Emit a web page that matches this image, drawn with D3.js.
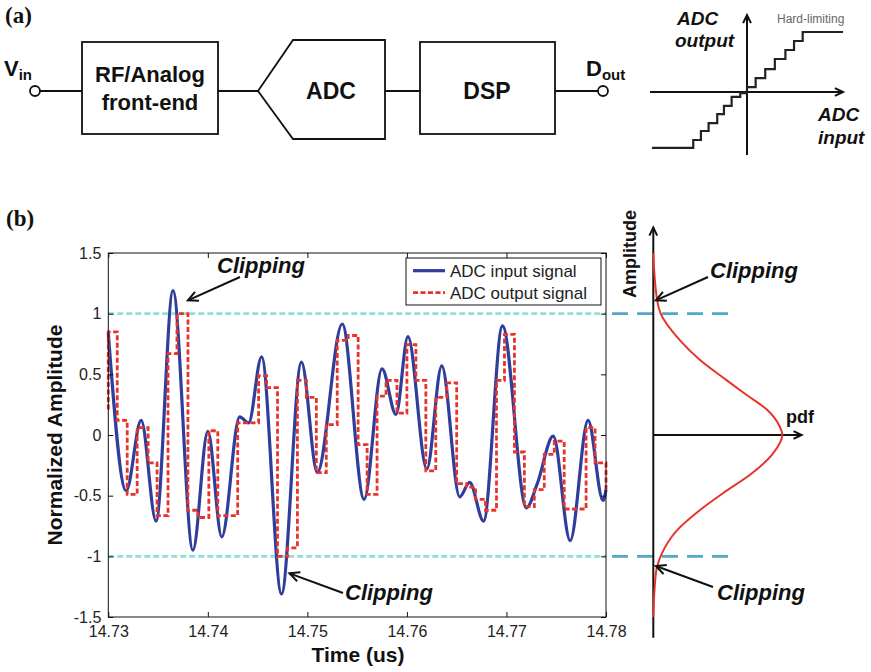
<!DOCTYPE html>
<html>
<head>
<meta charset="utf-8">
<script src="https://cdn.jsdelivr.net/npm/d3@7"></script>
<style>
  body { margin: 0; background: #fff; }
  svg { display: block; font-family: "Liberation Sans", Arial, sans-serif; }
</style>
</head>
<body>
<div id="chart"></div>
<script>
// ---- data ----

// ADC input signal (blue), time in us / normalized amplitude
var inputT = [14.7300, 14.7318, 14.7333, 14.7348, 14.7365, 14.7385, 14.7400, 14.7414, 14.7432, 14.7441,
              14.7454, 14.7474, 14.7494, 14.7510, 14.7535, 14.7557, 14.7575, 14.7589, 14.7601, 14.7620,
              14.7635, 14.7653, 14.7663, 14.7677, 14.7696, 14.7720, 14.7731, 14.7747, 14.7764, 14.7782,
              14.7797, 14.7800];
var inputV = [0.84, -0.46, 0.12, -0.71, 1.19, -0.95, 0.03, -0.84, 0.15, 0.10,
              0.645, -1.31, 0.60, -0.31, 0.915, -0.53, 0.545, 0.17, 0.81, -0.28,
              0.57, -0.51, -0.39, -0.71, 0.90, -0.60, -0.40, -0.01, -0.87, 0.12,
              -0.54, -0.45];

// ADC output signal (red, held samples): edge time and value held after it
var outputT = [14.7300, 14.7300, 14.7309, 14.7319, 14.7329, 14.7340, 14.7349, 14.7360, 14.7369, 14.7380,
               14.7390, 14.7401, 14.7410, 14.7430, 14.7451, 14.7459, 14.7470, 14.7480, 14.7490, 14.7499,
               14.7509, 14.7519, 14.7530, 14.7541, 14.7551, 14.7560, 14.7570, 14.7579, 14.7590, 14.7600,
               14.7609, 14.7619, 14.7629, 14.7640, 14.7650, 14.7660, 14.7669, 14.7679, 14.7690, 14.7698,
               14.7708, 14.7718, 14.7728, 14.7738, 14.7748, 14.7758, 14.7780, 14.7789, 14.7800];
var outputV = [0.21, 0.85, 0.12, -0.49, 0.06, -0.23, -0.665, 0.67, 1.00, -0.62,
               -0.68, 0.035, -0.665, 0.10, 0.49, 0.39, -1.00, -0.93, 0.45, 0.31,
               -0.31, 0.085, 0.78, 0.82, -0.08, -0.49, 0.32, 0.45, 0.18, 0.745,
               0.45, -0.295, 0.31, 0.43, -0.40, -0.43, -0.53, -0.62, 0.45, 0.83,
               -0.14, -0.59, -0.45, -0.16, -0.05, -0.61, 0.06, -0.23, -0.45];

var clipLevels = [1, -1];

var xTicks = [14.73, 14.74, 14.75, 14.76, 14.77, 14.78];
var yTicks = [-1.5, -1, -0.5, 0, 0.5, 1, 1.5];

// pdf sketch on the right: amplitude vs relative density
var pdfAmp = [1.50, 1.11, 1.00, 0.78, 0.62, 0.45, 0.34, 0.21, 0.07, 0.00,
              -0.15, -0.32, -0.48, -0.62, -0.79, -0.98, -1.14, -1.50];
var pdfVal = [0.00, 0.03, 0.057, 0.207, 0.36, 0.57, 0.71, 0.88, 0.98, 1.00,
              0.93, 0.76, 0.54, 0.36, 0.18, 0.065, 0.02, 0.00];

// ADC transfer characteristic (inset), normalized input / output
var tfIn  = [-0.99, -0.56, -0.48, -0.40, -0.31, -0.24, -0.16, -0.07, 0.00, 0.09, 0.19, 0.29, 0.40, 0.49, 0.58, 1.00];
var tfOut = [-0.93, -0.80, -0.65, -0.52, -0.37, -0.23, -0.08, -0.02, 0.08, 0.23, 0.38, 0.55, 0.70, 0.85, 1.00, 1.00];

var legendLabels = ["ADC input signal", "ADC output signal"];

// ---- setup ----
var blue = "#2f3d9c", red = "#e8332b", cyan = "#8fe0da", teal = "#4fa9c9", ink = "#111";

var svg = d3.select("#chart").append("svg")
  .attr("width", 871)
  .attr("height", 672);

// draw a line with an open arrow head at (x2,y2)
function arrow(g, x1, y1, x2, y2, len, width) {
  var a = Math.atan2(y2 - y1, x2 - x1), s = 0.45;
  g.append("line").attr("x1", x1).attr("y1", y1).attr("x2", x2).attr("y2", y2)
    .attr("stroke", ink).attr("stroke-width", width);
  g.append("path")
    .attr("d", "M" + (x2 - len * Math.cos(a - s)) + "," + (y2 - len * Math.sin(a - s)) +
               "L" + x2 + "," + y2 +
               "L" + (x2 - len * Math.cos(a + s)) + "," + (y2 - len * Math.sin(a + s)))
    .attr("fill", "none").attr("stroke", ink).attr("stroke-width", width)
    .attr("stroke-linejoin", "miter");
}

function label(g, x, y, txt, size, weight, style) {
  return g.append("text").attr("x", x).attr("y", y)
    .style("font-size", size + "px").style("font-weight", weight || "normal")
    .style("font-style", style || "normal").attr("fill", ink).text(txt);
}

// ---- (a) block diagram ----
var ga = svg.append("g");
ga.append("text").attr("x", 5).attr("y", 23)
  .style("font-family", "'Liberation Serif', serif").style("font-weight", "bold")
  .style("font-size", "23px").attr("fill", ink).text("(a)");

[[40, 82], [218, 258], [385, 420], [555, 598]].forEach(function (w) {
  ga.append("line").attr("x1", w[0]).attr("x2", w[1]).attr("y1", 91).attr("y2", 91)
    .attr("stroke", ink).attr("stroke-width", 1.8);
});
[35, 603].forEach(function (cx) {
  ga.append("circle").attr("cx", cx).attr("cy", 91).attr("r", 5)
    .attr("fill", "#fff").attr("stroke", ink).attr("stroke-width", 1.8);
});
ga.append("rect").attr("x", 82).attr("y", 42).attr("width", 136).attr("height", 92)
  .attr("fill", "none").attr("stroke", ink).attr("stroke-width", 1.8);
ga.append("rect").attr("x", 420).attr("y", 42).attr("width", 135).attr("height", 92)
  .attr("fill", "none").attr("stroke", ink).attr("stroke-width", 1.8);
ga.append("path").attr("d", "M258,91L293,40L385,40L385,139L293,139Z")
  .attr("fill", "none").attr("stroke", ink).attr("stroke-width", 1.8);

label(ga, 150, 82, "RF/Analog", 22, "bold").attr("text-anchor", "middle");
label(ga, 150, 110, "front-end", 22, "bold").attr("text-anchor", "middle");
label(ga, 331, 99, "ADC", 23, "bold").attr("text-anchor", "middle");
label(ga, 487, 99, "DSP", 23, "bold").attr("text-anchor", "middle");

var vin = label(ga, 4, 76, "V", 22, "bold");
vin.append("tspan").attr("dy", 4).style("font-size", "15px").text("in");
var dout = label(ga, 586, 76, "D", 22, "bold");
dout.append("tspan").attr("dy", 4).style("font-size", "15px").text("out");

// ---- (a) transfer characteristic inset ----
var tfX = d3.scaleLinear().domain([-1, 1]).range([651, 843]);
var tfY = d3.scaleLinear().domain([-1, 1]).range([152, 32]);
var gi = svg.append("g");
arrow(gi, tfX(0), 155, tfX(0), 15, 9, 2);
arrow(gi, 650, tfY(0), 843, tfY(0), 9, 2);
gi.append("path")
  .datum(tfIn.map(function (d, i) { return [d, tfOut[i]]; }))
  .attr("fill", "none").attr("stroke", "#222").attr("stroke-width", 2.2)
  .attr("d", d3.line().x(function (d) { return tfX(d[0]); }).y(function (d) { return tfY(d[1]); })
    .curve(d3.curveStepAfter));
label(gi, 677, 25, "ADC", 19, "bold", "italic");
label(gi, 675, 47, "output", 19, "bold", "italic");
label(gi, 818, 121, "ADC", 19, "bold", "italic");
label(gi, 818, 144, "input", 19, "bold", "italic");
label(gi, 777, 23, "Hard-limiting", 12).attr("fill", "#666");

// ---- (b) time plot ----
svg.append("text").attr("x", 6).attr("y", 226)
  .style("font-family", "'Liberation Serif', serif").style("font-weight", "bold")
  .style("font-size", "23px").attr("fill", ink).text("(b)");

var x = d3.scaleLinear().domain([14.73, 14.78]).range([108.3, 606]);
var y = d3.scaleLinear().domain([-1.5, 1.5]).range([617, 253]);
var gp = svg.append("g");

// clipping thresholds
gp.selectAll(".clip").data(clipLevels).enter().append("line")
  .attr("x1", x(14.73)).attr("x2", x(14.78))
  .attr("y1", function (d) { return y(d); }).attr("y2", function (d) { return y(d); })
  .attr("stroke", cyan).attr("stroke-width", 2.6).attr("stroke-dasharray", "6,3");

var inputData = inputT.map(function (t, i) { return [t, inputV[i]]; });
var outputData = outputT.map(function (t, i) { return [t, outputV[i]]; });

gp.append("path").datum(inputData)
  .attr("fill", "none").attr("stroke", blue).attr("stroke-width", 3.2)
  .attr("d", d3.line().x(function (d) { return x(d[0]); }).y(function (d) { return y(d[1]); })
    .curve(d3.curveMonotoneX));

gp.append("path").datum(outputData)
  .attr("fill", "none").attr("stroke", red).attr("stroke-width", 2.8)
  .attr("stroke-dasharray", "5,2.5")
  .attr("d", d3.line().x(function (d) { return x(d[0]); }).y(function (d) { return y(d[1]); })
    .curve(d3.curveStepAfter));

// axes with inward ticks on all sides
var fmt = function (d) { return String(d); };
var axB = gp.append("g").attr("transform", "translate(0," + y(-1.5) + ")")
  .call(d3.axisBottom(x).tickValues(xTicks).tickFormat(fmt).tickSizeInner(-5).tickSizeOuter(0).tickPadding(9));
var axT = gp.append("g").attr("transform", "translate(0," + y(1.5) + ")")
  .call(d3.axisTop(x).tickValues(xTicks).tickFormat("").tickSizeInner(-5).tickSizeOuter(0));
var axL = gp.append("g").attr("transform", "translate(" + x(14.73) + ",0)")
  .call(d3.axisLeft(y).tickValues(yTicks).tickFormat(fmt).tickSizeInner(-5).tickSizeOuter(0).tickPadding(7));
var axR = gp.append("g").attr("transform", "translate(" + x(14.78) + ",0)")
  .call(d3.axisRight(y).tickValues(yTicks).tickFormat("").tickSizeInner(-5).tickSizeOuter(0));
[axB, axT, axL, axR].forEach(function (a) {
  a.select(".domain").remove();
  a.selectAll("line").attr("stroke", ink);
  a.selectAll("text").style("font-size", "16px").style("font-family", "'Liberation Sans', Arial, sans-serif")
    .attr("fill", "#222");
});
gp.append("rect").attr("x", x(14.73)).attr("y", y(1.5))
  .attr("width", x(14.78) - x(14.73)).attr("height", y(-1.5) - y(1.5))
  .attr("fill", "none").attr("stroke", ink).attr("stroke-width", 1);

label(gp, 358, 662, "Time (us)", 21, "bold").attr("text-anchor", "middle");
label(gp, 0, 0, "Normalized Amplitude", 21, "bold").attr("text-anchor", "middle")
  .attr("transform", "translate(62," + y(0) + ") rotate(-90)");

// legend
var lg = gp.append("g");
lg.append("rect").attr("x", 406).attr("y", 258).attr("width", 195).attr("height", 47)
  .attr("fill", "#fff").attr("stroke", ink).attr("stroke-width", 1);
legendLabels.forEach(function (l, i) {
  var ly = 270.7 + i * 22;
  lg.append("line").attr("x1", 413).attr("x2", 445).attr("y1", ly).attr("y2", ly)
    .attr("stroke", i ? red : blue).attr("stroke-width", i ? 2.8 : 3.2)
    .attr("stroke-dasharray", i ? "5,2.5" : null);
  label(lg, 450, ly + 6, l, 17).attr("fill", "#222");
});

// clipping annotations on the plot
label(gp, 217, 273, "Clipping", 22, "bold", "italic");
arrow(gp, 240, 277, x(14.7380), y(1.11), 11, 2);
label(gp, 345, 600, "Clipping", 22, "bold", "italic");
arrow(gp, 343, 593, x(14.7482), y(-1.14), 11, 2);

// ---- pdf sketch ----
var px = d3.scaleLinear().domain([0, 1]).range([653.3, 782.3]);
var gr = svg.append("g");
gr.selectAll(".thr").data(clipLevels).enter().append("line")
  .attr("x1", px(-0.32)).attr("x2", px(0.64))
  .attr("y1", function (d) { return y(d); }).attr("y2", function (d) { return y(d); })
  .attr("stroke", teal).attr("stroke-width", 2.8).attr("stroke-dasharray", "16,9");
arrow(gr, px(0), y(-1.67), px(0), y(1.71), 9, 2);
arrow(gr, px(0), y(0), px(1.15), y(0), 9, 2);
gr.append("path")
  .datum(pdfAmp.map(function (a, i) { return [pdfVal[i], a]; }))
  .attr("fill", "none").attr("stroke", red).attr("stroke-width", 2)
  .attr("d", d3.line().x(function (d) { return px(d[0]); }).y(function (d) { return y(d[1]); })
    .curve(d3.curveMonotoneY));
label(gr, 786, 423, "pdf", 18, "bold");
label(gr, 0, 0, "Amplitude", 18, "bold").attr("text-anchor", "middle")
  .attr("transform", "translate(636,254) rotate(-90)");
label(gr, 710, 278, "Clipping", 22, "bold", "italic");
arrow(gr, 708, 277, px(0.02), y(1.11), 11, 2);
label(gr, 717, 600, "Clipping", 22, "bold", "italic");
arrow(gr, 713, 587, px(0.02), y(-1.08), 11, 2);
</script>
</body>
</html>
